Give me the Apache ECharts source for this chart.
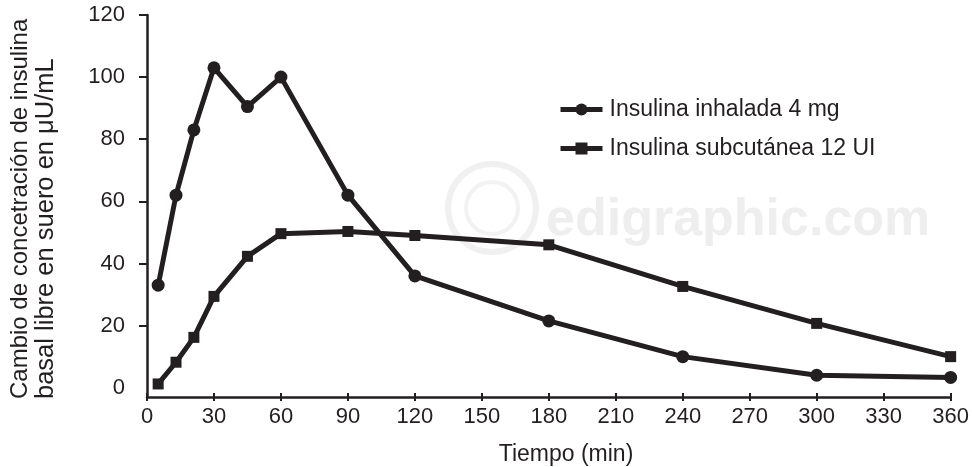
<!DOCTYPE html>
<html>
<head>
<meta charset="utf-8">
<script src="https://cdn.jsdelivr.net/npm/echarts@6/dist/echarts.min.js"></script>
<style>html,body{margin:0;padding:0;background:#fff}#c{width:972px;height:467px}</style>
</head>
<body>
<div id="c"></div>
<script>
const times = [5, 13, 21, 30, 45, 60, 90, 120, 180, 240, 300, 360];
const inhaled = [33, 62, 83, 103, 90.5, 100, 62, 36, 21.5, 10, 4, 3.3];
const subcut = [1.2, 8.2, 16.2, 29.4, 42.3, 49.6, 50.3, 49, 46, 32.6, 20.7, 10];
const xTicks = [0, 30, 60, 90, 120, 150, 180, 210, 240, 270, 300, 330, 360];
const yLabels = [0, 20, 40, 60, 80, 100, 120];
const yTicks = [20, 40, 60, 80, 100, 120];
const seriesNames = ['Insulina inhalada 4 mg', 'Insulina subcutánea 12 UI'];
const xTitle = 'Tiempo (min)';
const yTitleLines = ['Cambio de concetración de insulina', 'basal libre en suero en μU/mL'];
const watermark = 'edigraphic.com';

const INK = '#231f20';
const FONT = '"Liberation Sans", Arial, sans-serif';
const chart = echarts.init(document.getElementById('c'), null, {renderer: 'canvas'});

function pairs(xs, ys) { return xs.map((x, i) => [x, ys[i]]); }

chart.setOption({
  animation: false,
  backgroundColor: '#fff',
  grid: {left: 147, right: 20, top: 15, bottom: 70, containLabel: false},
  graphic: [
    {type: 'circle', shape: {cx: 492, cy: 208, r: 44}, z: 0, silent: true,
     style: {fill: 'none', stroke: '#f0f0f0', lineWidth: 6}},
    {type: 'circle', shape: {cx: 492, cy: 208, r: 26}, z: 0, silent: true,
     style: {fill: 'none', stroke: '#f2f2f2', lineWidth: 4}},
    {type: 'text', x: 546, y: 221, z: 0, silent: true,
     style: {text: watermark, font: 'bold 52px ' + FONT, fill: '#eeeeee', textAlign: 'left', textVerticalAlign: 'middle'}},
    {type: 'text', x: 566, y: 455, style: {text: xTitle, font: '23px ' + FONT, fill: INK, textAlign: 'center', textVerticalAlign: 'middle'}},
    {type: 'text', x: 20, y: 399, rotation: Math.PI / 2,
     style: {text: yTitleLines[0], font: '24px ' + FONT, fill: INK, textAlign: 'left', textVerticalAlign: 'middle'}},
    {type: 'text', x: 46, y: 399, rotation: Math.PI / 2,
     style: {text: yTitleLines[1], font: '25.5px ' + FONT, fill: INK, textAlign: 'left', textVerticalAlign: 'middle'}}
  ],
  legend: {
    orient: 'vertical', left: 553, top: 93, itemWidth: 42, itemHeight: 15, itemGap: 16,
    data: seriesNames,
    lineStyle: {width: 5, color: INK},
    textStyle: {fontFamily: FONT, fontSize: 23, color: INK, padding: [0, 0, 0, 2]}
  },
  xAxis: [
    {type: 'value', min: 0, max: 360, interval: 30, position: 'bottom',
     axisLine: {show: true, onZero: false, lineStyle: {color: INK, width: 2.5}},
     axisTick: {show: true, length: 4, lineStyle: {color: INK, width: 2}},
     axisLabel: {show: true, margin: 9, fontFamily: FONT, fontSize: 22, color: INK, customValues: xTicks},
     splitLine: {show: false}},
    {type: 'value', min: 0, max: 360, interval: 30, position: 'bottom',
     axisLine: {show: false, onZero: false},
     axisTick: {show: true, inside: true, length: 4, lineStyle: {color: INK, width: 2}},
     axisLabel: {show: false}, splitLine: {show: false}}
  ],
  yAxis: {
    type: 'value', min: -3, max: 120,
    axisLine: {show: true, onZero: false, lineStyle: {color: INK, width: 2.5}},
    axisTick: {show: true, length: 8, customValues: yTicks, lineStyle: {color: INK, width: 2}},
    axisLabel: {margin: 22, fontFamily: FONT, fontSize: 22, color: INK, customValues: yLabels},
    splitLine: {show: false}
  },
  series: [
    {name: seriesNames[0], type: 'line', xAxisIndex: 0, data: pairs(times, inhaled),
     symbol: 'circle', symbolSize: 13, showAllSymbol: true,
     lineStyle: {color: INK, width: 5}, itemStyle: {color: INK}, z: 3},
    {name: seriesNames[1], type: 'line', xAxisIndex: 0, data: pairs(times, subcut),
     symbol: 'rect', symbolSize: 11, showAllSymbol: true,
     lineStyle: {color: INK, width: 5}, itemStyle: {color: INK}, z: 3}
  ]
});
</script>
</body>
</html>
